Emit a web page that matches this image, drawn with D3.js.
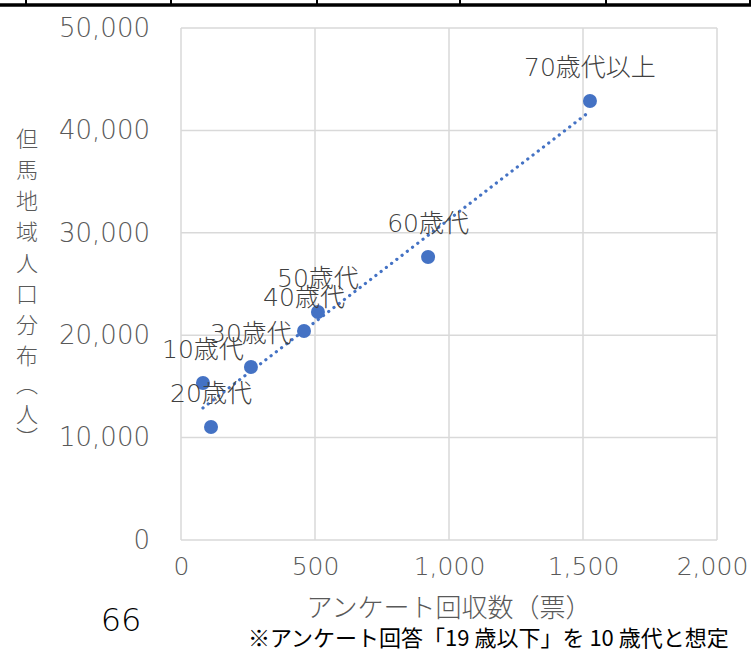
<!DOCTYPE html>
<html>
<head>
<meta charset="utf-8">
<script src="https://cdn.jsdelivr.net/npm/d3@7"></script>
<style>
    body { margin: 0; background: #fff; }
    #chart { width: 751px; height: 651px; }
    text { font-family: "DejaVu Sans", "Noto Sans CJK JP", sans-serif; font-weight: 200; }
</style>
</head>
<body>
<div id="chart"></div>
<script>
// data
var ageGroups = ["10歳代", "20歳代", "30歳代", "40歳代", "50歳代", "60歳代", "70歳代以上"];
var responses = [82, 112, 261, 459, 511, 922, 1526];
var population = [15330, 11035, 16900, 20410, 22265, 27640, 42870];
var xTicks = [0, 500, 1000, 1500, 2000];
var yTicks = [0, 10000, 20000, 30000, 40000, 50000];
var tableCols = [26, 171, 317, 460, 606, 750];

function init() {
    var w = 751;
    var h = 651;
    var left = 181, right = 717, top = 28, bottom = 540;
    var blue = "#4472C4";
    var fmt = d3.format(",");

    var dataset = ageGroups.map(function (g, i) {
        return { label: g, x: responses[i], y: population[i] };
    });

    var svg = d3.select("#chart")
        .append("svg")
        .attr("width", w)
        .attr("height", h);

    // bottom edge of the table above the chart
    svg.append("line")
        .attr("x1", 0).attr("x2", w)
        .attr("y1", 5).attr("y2", 5)
        .attr("stroke", "black")
        .attr("stroke-width", 3.5);
    svg.selectAll(".tcol")
        .data(tableCols)
        .enter()
        .append("line")
        .attr("x1", function (d) { return d; })
        .attr("x2", function (d) { return d; })
        .attr("y1", 0).attr("y2", 6)
        .attr("stroke", "black")
        .attr("stroke-width", 2);

    var xScale = d3.scaleLinear().domain([0, 2000]).range([left, right]);
    var yScale = d3.scaleLinear().domain([0, 50000]).range([bottom, top]);

    // grid lines
    svg.selectAll(".vgrid")
        .data(xTicks)
        .enter()
        .append("line")
        .attr("x1", function (d) { return xScale(d); })
        .attr("x2", function (d) { return xScale(d); })
        .attr("y1", top).attr("y2", bottom)
        .attr("stroke", "#d9d9d9")
        .attr("stroke-width", 1.5);
    svg.selectAll(".hgrid")
        .data(yTicks)
        .enter()
        .append("line")
        .attr("x1", left).attr("x2", right)
        .attr("y1", function (d) { return yScale(d); })
        .attr("y2", function (d) { return yScale(d); })
        .attr("stroke", "#d9d9d9")
        .attr("stroke-width", 1.5);

    // axes (labels only)
    var xAxis = d3.axisBottom(xScale).tickValues(xTicks).tickFormat(fmt).tickSize(0).tickPadding(17);
    var yAxis = d3.axisLeft(yScale).tickValues(yTicks).tickFormat(fmt).tickSize(0).tickPadding(31);

    var gx = svg.append("g")
        .attr("transform", "translate(0," + bottom + ")")
        .call(xAxis);
    var gy = svg.append("g")
        .attr("transform", "translate(" + left + ",0)")
        .call(yAxis);
    [gx, gy].forEach(function (g) {
        g.select(".domain").remove();
        g.attr("font-family", null).attr("font-size", null);
        g.selectAll("text")
            .attr("fill", "#595959")
            .style("font-size", "26px");
    });
    gx.selectAll("text").style("font-size", "25px");
    // keep the last x label inside the page, as in the original
    gx.selectAll(".tick:last-of-type text").attr("dx", -5);

    // linear trendline
    var mx = d3.mean(responses), my = d3.mean(population);
    var sxy = d3.sum(dataset, function (d) { return (d.x - mx) * (d.y - my); });
    var sxx = d3.sum(dataset, function (d) { return (d.x - mx) * (d.x - mx); });
    var slope = sxy / sxx, icpt = my - slope * mx;
    var ends = d3.extent(responses);
    svg.append("line")
        .attr("x1", xScale(ends[0]))
        .attr("y1", yScale(icpt + slope * ends[0]))
        .attr("x2", xScale(ends[1]))
        .attr("y2", yScale(icpt + slope * ends[1]))
        .attr("stroke", blue)
        .attr("stroke-width", 3.2)
        .attr("stroke-linecap", "round")
        .attr("stroke-dasharray", "0.1 6.5");

    // points
    svg.selectAll(".dot")
        .data(dataset)
        .enter()
        .append("circle")
        .attr("cx", function (d) { return xScale(d.x); })
        .attr("cy", function (d) { return yScale(d.y); })
        .attr("r", 7)
        .attr("fill", blue);

    // point labels
    svg.selectAll(".plabel")
        .data(dataset)
        .enter()
        .append("text")
        .attr("x", function (d) { return xScale(d.x); })
        .attr("y", function (d) { return yScale(d.y) - 25; })
        .attr("text-anchor", "middle")
        .attr("fill", "#404040")
        .style("font-size", "25px")
        .text(function (d) { return d.label; });

    // y axis title, one glyph at a time (parentheses sit tighter)
    var titleChars = Array.from("但馬地域人口分布（人）");
    var titleY = [139, 170, 201, 232, 263, 294, 325, 356, 384, 414, 438];
    svg.selectAll(".ytitle")
        .data(titleChars)
        .enter()
        .append("text")
        .attr("x", 27)
        .attr("y", function (d, i) { return titleY[i]; })
        .attr("text-anchor", "middle")
        .attr("fill", "#595959")
        .style("font-family", "'Noto Sans CJK JP', sans-serif")
        .style("font-size", "22px")
        .style("writing-mode", "vertical-rl")
        .text(function (d) { return d; });

    // x axis title
    svg.append("text")
        .attr("x", 449)
        .attr("y", 617)
        .attr("text-anchor", "middle")
        .attr("fill", "#595959")
        .style("font-family", "'Noto Sans CJK JP', sans-serif")
        .style("font-size", "26px")
        .text("アンケート回収数（票）");

    svg.append("text")
        .attr("x", 121)
        .attr("y", 631)
        .attr("text-anchor", "middle")
        .attr("fill", "black")
        .style("font-size", "32px")
        .text("66");

    svg.append("text")
        .attr("x", 248)
        .attr("y", 646)
        .attr("fill", "black")
        .style("font-family", "'Noto Sans CJK JP', sans-serif")
        .style("font-size", "22px")
        .style("font-weight", "400")
        .text("※アンケート回答「19 歳以下」を 10 歳代と想定");
}

window.onload = init;
</script>
</body>
</html>
